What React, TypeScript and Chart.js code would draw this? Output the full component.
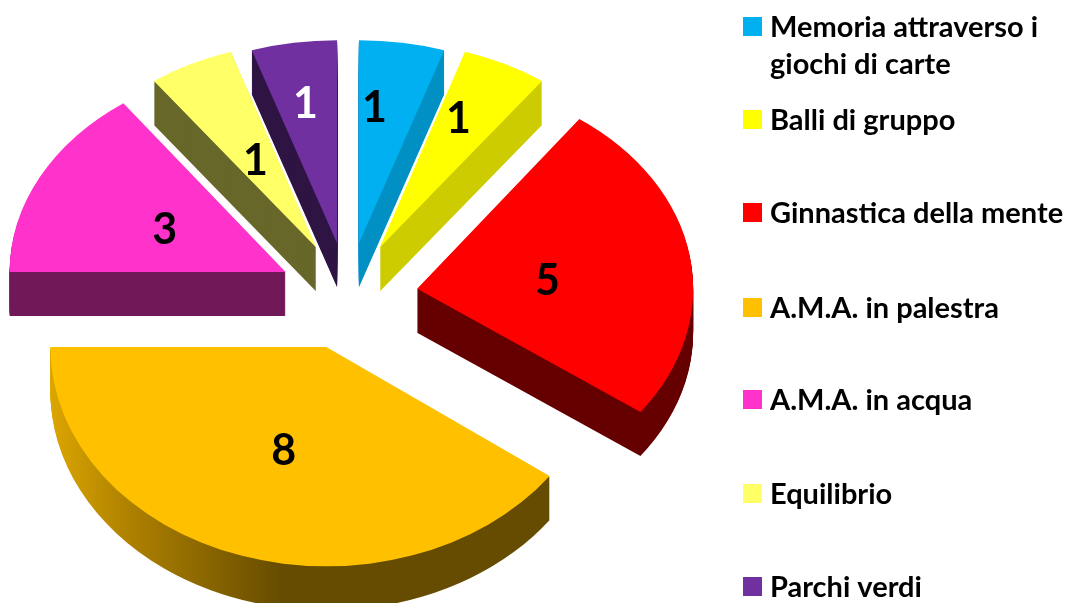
import React, { useEffect, useRef } from "react";
import { Chart, registerables } from "chart.js";

Chart.register(...registerables);

const categories = [
  "Memoria attraverso i giochi di carte",
  "Balli di gruppo",
  "Ginnastica della mente",
  "A.M.A. in palestra",
  "A.M.A. in acqua",
  "Equilibrio",
  "Parchi verdi",
];
const values = [1, 1, 5, 8, 3, 1, 1];
const topColors = ["#00B0F0", "#FFFF00", "#FF0000", "#FFC000", "#FF33CC", "#FFFF66", "#7030A0"];
const sideColors = ["#0090C4", "#CCCC00", "#660000", "#664C00", "#701858", "#67672A", "#2F1544"];
const valueLabelColors = ["#000", "#000", "#000", "#000", "#000", "#000", "#FFF"];
const valueLabelShift = [
  [-6, -35],
  [16, -37],
  [-6, 9],
  [0, 0],
  [2, 6],
  [2, 5],
  [-10, -39],
];
const sliceTilt = [0.735, 0.746, 0.76, 0.795, 0.756, 0.746, 0.735];
const sliceDrop = [0, 0, 3, 0, 2, 0, 0];
const legendLines = [
  ["Memoria attraverso i", "giochi di carte"],
  ["Balli di gruppo"],
  ["Ginnastica della mente"],
  ["A.M.A. in palestra"],
  ["A.M.A. in acqua"],
  ["Equilibrio"],
  ["Parchi verdi"],
];
const legendRowY = [28, 121, 214, 309, 401, 495, 588];

const EXPLODE = 70;
const DEPTH = 44;
const RADIUS = 276;
const FONT = "Lato, Carlito, sans-serif";

function apexOf(arc: any, i: number) {
  const mid = (arc.startAngle + arc.endAngle) / 2;
  const t = sliceTilt[i];
  return {
    mid,
    t,
    x: arc.x + Math.cos(mid) * EXPLODE,
    y: arc.y + Math.sin(mid) * EXPLODE * t + sliceDrop[i],
  };
}

const pie3d = {
  id: "pie3d",
  // The library's arc elements are drawn here, each on its own tilted, exploded frame.
  beforeDatasetDraw(chart: any) {
    const { ctx } = chart;
    chart.getDatasetMeta(0).data.forEach((arc: any, i: number) => {
      const a = apexOf(arc, i);
      const R = arc.outerRadius;
      let fill: any = sideColors[i];
      if (i === 3) {
        const g = ctx.createLinearGradient(a.x - R, 0, a.x - 45, 0);
        g.addColorStop(0, "#DCA600");
        g.addColorStop(0.35, "#AD8000");
        g.addColorStop(1, sideColors[i]);
        fill = g;
      }
      ctx.save();
      ctx.fillStyle = fill;
      for (let d = DEPTH; d > 0; d--) {
        ctx.save();
        ctx.translate(a.x, a.y + d);
        ctx.scale(1, a.t);
        ctx.beginPath();
        ctx.moveTo(0, 0);
        ctx.arc(0, 0, R, arc.startAngle, arc.endAngle);
        ctx.closePath();
        ctx.restore();
        ctx.fill();
      }
      ctx.restore();
      ctx.save();
      ctx.translate(a.x, a.y);
      ctx.scale(1, a.t);
      ctx.translate(-arc.x, -arc.y);
      arc.draw(ctx);
      ctx.restore();
    });
    return false;
  },
  afterDatasetsDraw(chart: any) {
    const { ctx } = chart;
    ctx.save();
    ctx.textAlign = "center";
    ctx.textBaseline = "middle";
    ctx.font = `bold 43px ${FONT}`;
    chart.getDatasetMeta(0).data.forEach((arc: any, i: number) => {
      const a = apexOf(arc, i);
      const h = arc.outerRadius / 2;
      const px = a.x + Math.cos(a.mid) * h + valueLabelShift[i][0];
      const py = a.y + Math.sin(a.mid) * h * a.t + valueLabelShift[i][1];
      ctx.fillStyle = valueLabelColors[i];
      ctx.fillText(String(values[i]), px, py);
    });
    ctx.restore();

    ctx.save();
    ctx.textAlign = "left";
    ctx.textBaseline = "middle";
    ctx.font = `bold 29px ${FONT}`;
    legendLines.forEach((lines, i) => {
      ctx.fillStyle = topColors[i];
      ctx.fillRect(743, legendRowY[i] - 11, 19, 19);
      ctx.fillStyle = "#000";
      lines.forEach((line, k) => ctx.fillText(line, 770, legendRowY[i] + k * 37));
    });
    ctx.restore();
  },
};

export default function App() {
  const ref = useRef<HTMLCanvasElement>(null);
  useEffect(() => {
    const chart = new Chart(ref.current as HTMLCanvasElement, {
      type: "pie",
      data: {
        labels: categories,
        datasets: [
          {
            data: values,
            backgroundColor: topColors,
            borderWidth: 0,
            clip: false,
          } as any,
        ],
      },
      options: {
        animation: false,
        responsive: false,
        radius: RADIUS,
        layout: { padding: { left: 0, top: 0, right: 370, bottom: 15 } },
        plugins: { legend: { display: false }, tooltip: { enabled: false } },
      } as any,
      plugins: [pie3d],
    });
    return () => chart.destroy();
  }, []);
  return (
    <div style={{ position: "fixed", left: 0, top: 0, width: 1066, height: 603, background: "#fff" }}>
      <canvas ref={ref} width={1066} height={603} style={{ display: "block" }} />
    </div>
  );
}
